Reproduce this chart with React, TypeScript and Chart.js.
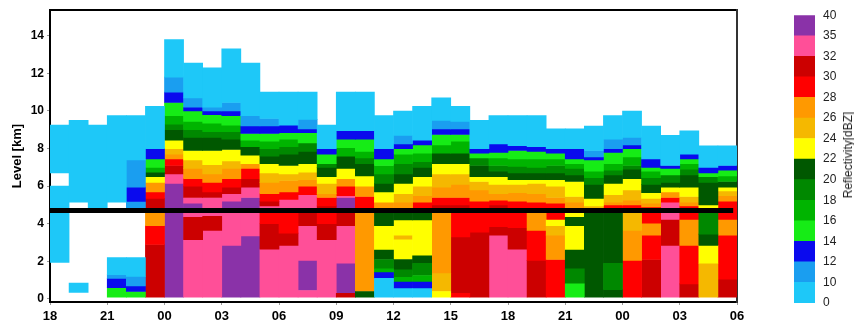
import { useEffect, useRef } from 'react';
import { Chart, registerables } from 'chart.js';

Chart.register(...registerables);

// Hour ticks along the time axis (every 3 h, starting at 18 UTC)
const timeLabels = ['18', '21', '00', '03', '06', '09', '12', '15', '18', '21', '00', '03', '06'];
const hoursPerTick = 3;
const totalHours = 36;

// Height ticks (km)
const levelTicks = [0, 2, 4, 6, 8, 10, 12, 14];

// Reflectivity classes: lower edge of each class (dBZ) and its colour
const dbzClasses = [0, 10, 12, 14, 16, 18, 20, 22, 24, 26, 28, 30, 32, 35];
const classColors = [
  '#1ec8f8', '#1a9ef0', '#0a0aee', '#16ec16', '#00b400', '#008800', '#005800',
  '#ffff00', '#f5b800', '#ff9900', '#ff0000', '#cc0000', '#ff4f98', '#8a32a8',
];
// Labels on the class edges of the colour bar
const dbzEdgeLabels = ['0', '10', '12', '14', '16', '18', '20', '22', '24', '26', '28', '30', '32', '35', '40'];

const meltingLevelKm = 4.7;
const meltingLineEndHour = 35.8;
const groundKm = 0.1;

// Hourly profiles: [top of layer (km), dBZ class or null for no echo], listed from the top down.
// Each layer reaches down to the top of the next one; the last one reaches the ground.
const profiles: Array<Array<[number, number | null]>> = [
  [[9.25, 0], [6.7, null], [6.0, 0], [1.95, null]],
  [[9.5, 0], [5.15, null], [0.85, 0], [0.35, null]],
  [[9.25, 0], [4.8, null]],
  [[9.75, 0], [5.15, null], [2.2, 0], [1.3, 10], [1.1, 12], [0.6, 14]],
  [[9.75, 0], [7.4, 10], [5.95, 12], [5.15, 10], [4.85, null], [2.2, 0], [1.2, 10], [0.7, 12], [0.4, 14]],
  [[10.25, 0], [8.0, 12], [7.45, 14], [7.0, 16], [6.75, 20], [6.5, 22], [6.2, 26], [5.7, 28], [5.35, 30], [4.6, 26], [3.9, 28], [2.9, 30]],
  [[13.8, 0], [11.8, 10], [11.0, 12], [10.45, 14], [9.75, 16], [9.3, 18], [9.0, 20], [8.45, 22], [8.0, 24], [7.7, 26], [7.45, 28], [7.1, 30], [6.65, 32], [6.15, 35]],
  [[12.55, 0], [10.7, 10], [10.2, 12], [10.0, 14], [9.45, 16], [9.0, 18], [8.6, 20], [7.9, 22], [7.4, 24], [6.95, 26], [6.4, 28], [6.0, 30], [5.4, 32], [5.1, 35], [4.7, 32], [4.35, 30], [3.15, 32]],
  [[12.3, 0], [10.2, 10], [10.0, 12], [9.8, 14], [9.35, 16], [8.9, 18], [8.6, 20], [7.9, 22], [7.15, 24], [6.65, 26], [6.2, 28], [5.7, 30], [5.4, 32], [4.4, 30], [3.65, 32]],
  [[13.3, 0], [10.45, 10], [10.0, 12], [9.75, 14], [9.25, 16], [8.9, 18], [8.5, 20], [7.95, 22], [7.35, 24], [6.95, 26], [6.4, 28], [5.95, 30], [5.6, 32], [5.2, 35], [4.7, 32], [2.85, 35]],
  [[12.55, 0], [9.75, 10], [9.2, 12], [8.8, 14], [8.45, 16], [8.1, 20], [7.65, 22], [7.2, 26], [6.95, 28], [6.4, 30], [5.95, 32], [5.4, 35], [4.7, 32], [3.35, 35]],
  [[11.0, 0], [9.6, 10], [9.2, 12], [8.8, 14], [8.4, 16], [8.0, 18], [7.6, 20], [7.2, 22], [6.7, 24], [6.2, 26], [5.6, 28], [5.2, 30], [4.95, 32], [4.7, 28], [4.0, 30], [2.65, 32]],
  [[11.0, 0], [9.25, 12], [8.85, 14], [8.5, 16], [8.1, 18], [7.7, 20], [7.1, 22], [6.65, 24], [6.3, 26], [5.7, 28], [5.3, 32], [4.7, 28], [3.5, 30], [2.85, 32]],
  [[11.0, 0], [9.55, 10], [9.05, 12], [8.85, 14], [8.3, 18], [7.85, 20], [7.2, 22], [6.75, 24], [6.35, 26], [6.0, 28], [5.55, 32], [4.7, 30], [3.9, 32], [2.05, 35], [0.45, 32]],
  [[9.25, 0], [8.0, 12], [7.7, 14], [7.2, 18], [7.0, 20], [6.5, 22], [6.15, 24], [5.6, 26], [5.4, 28], [4.95, 30], [4.7, 28], [4.0, 30], [3.15, 32]],
  [[11.0, 0], [8.95, 12], [8.5, 14], [8.05, 16], [7.6, 20], [6.95, 22], [6.4, 26], [6.0, 28], [5.5, 32], [5.4, 35], [4.7, 30], [3.9, 32], [1.9, 35], [0.3, 30]],
  [[11.0, 0], [8.95, 12], [8.5, 14], [7.85, 16], [7.5, 18], [7.2, 20], [6.55, 22], [6.0, 26], [5.45, 28], [4.7, 26], [0.4, 20]],
  [[9.75, 0], [8.0, 12], [7.45, 14], [7.1, 16], [6.65, 18], [6.15, 20], [5.7, 22], [5.15, 26], [4.7, 20], [3.9, 22], [2.6, 20], [2.1, 18], [1.6, 16], [1.4, 12], [1.1, 0]],
  [[10.0, 0], [8.7, 10], [8.25, 12], [8.0, 14], [7.7, 16], [7.2, 18], [6.65, 20], [6.15, 22], [5.6, 24], [5.15, 26], [4.7, 20], [4.2, 22], [3.4, 24], [3.15, 22], [2.1, 20], [1.55, 18], [1.15, 16], [0.9, 12], [0.55, 0]],
  [[10.25, 0], [8.45, 12], [8.2, 14], [7.75, 16], [7.3, 18], [7.0, 20], [6.5, 22], [6.0, 24], [5.5, 26], [5.15, 28], [4.7, 20], [4.2, 22], [2.3, 20], [1.9, 18], [1.25, 16], [0.9, 12], [0.55, 0]],
  [[10.7, 0], [9.5, 10], [9.05, 12], [8.75, 14], [8.2, 16], [7.75, 20], [7.2, 22], [6.65, 24], [5.95, 26], [5.4, 28], [5.0, 30], [4.7, 26], [1.35, 24], [0.4, 22]],
  [[10.25, 0], [9.45, 10], [9.05, 12], [8.75, 14], [8.4, 16], [7.75, 20], [7.2, 22], [6.65, 24], [6.1, 26], [5.4, 28], [5.0, 30], [4.7, 28], [3.3, 30], [0.3, 28]],
  [[9.5, 0], [8.0, 12], [7.75, 14], [7.5, 18], [7.1, 20], [6.5, 22], [6.25, 24], [5.8, 26], [5.2, 28], [3.55, 30]],
  [[9.75, 0], [8.25, 12], [7.8, 14], [7.5, 16], [7.1, 18], [6.8, 20], [6.5, 22], [6.1, 24], [5.6, 26], [5.25, 28], [5.0, 30], [4.7, 28], [3.85, 30], [3.4, 32]],
  [[9.75, 0], [8.15, 12], [7.9, 14], [7.45, 16], [7.05, 18], [6.7, 20], [6.35, 22], [6.1, 24], [5.65, 26], [5.2, 28], [3.8, 30], [2.65, 32]],
  [[9.75, 0], [8.1, 12], [7.85, 14], [7.45, 16], [7.0, 18], [6.7, 20], [6.35, 22], [6.15, 24], [5.6, 26], [5.15, 28], [4.7, 26], [3.65, 28], [2.05, 30]],
  [[9.05, 0], [8.0, 12], [7.75, 14], [7.45, 16], [7.1, 18], [6.7, 20], [6.35, 22], [6.0, 24], [5.4, 26], [5.1, 28], [4.2, 22], [3.9, 24], [3.4, 26], [2.1, 28]],
  [[9.05, 0], [8.0, 12], [7.45, 14], [7.2, 16], [6.95, 18], [6.6, 20], [6.25, 22], [5.45, 24], [5.15, 26], [4.7, 22], [4.35, 20], [3.9, 22], [2.6, 20], [1.6, 18], [0.8, 14]],
  [[9.2, 0], [7.9, 10], [7.55, 12], [7.4, 14], [6.8, 16], [6.45, 18], [6.1, 20], [5.35, 22], [4.95, 24], [4.7, 20]],
  [[9.75, 0], [8.5, 10], [8.0, 12], [7.8, 14], [7.2, 16], [6.85, 18], [6.6, 20], [6.15, 22], [5.55, 24], [5.15, 26], [5.0, 28], [4.7, 20], [1.9, 18], [0.5, 20]],
  [[10.0, 0], [8.6, 10], [8.2, 12], [8.0, 14], [7.55, 16], [7.1, 18], [6.9, 20], [6.4, 22], [5.8, 24], [5.25, 26], [5.0, 28], [4.7, 24], [3.65, 26], [2.05, 28]],
  [[9.2, 0], [7.45, 12], [7.0, 14], [6.8, 16], [6.45, 18], [6.1, 20], [5.65, 22], [5.35, 24], [5.1, 26], [4.9, 28], [4.0, 26], [3.4, 28], [2.1, 30]],
  [[8.7, 0], [7.1, 12], [6.95, 14], [6.6, 18], [6.2, 20], [5.95, 22], [5.7, 26], [5.4, 28], [5.15, 32], [4.2, 30], [2.85, 32]],
  [[8.95, 0], [7.7, 12], [7.45, 14], [7.2, 16], [6.9, 18], [6.6, 20], [5.95, 22], [5.45, 24], [5.15, 26], [4.95, 28], [4.2, 26], [2.85, 28], [0.8, 30]],
  [[8.15, 0], [7.0, 12], [6.7, 14], [6.5, 18], [6.2, 20], [5.0, 22], [4.7, 18], [3.45, 20], [2.85, 22], [1.9, 24]],
  [[8.15, 0], [7.1, 12], [6.85, 14], [6.55, 16], [6.25, 20], [5.95, 22], [5.75, 24], [5.5, 26], [5.2, 28], [4.2, 26], [3.4, 28], [1.05, 30]],
];

type Cell = { x: number; y: [number, number] };

// Split the profiles into one floating-bar dataset per reflectivity class
function cellsByClass(): Cell[][] {
  const groups: Cell[][] = dbzClasses.map(() => []);
  profiles.forEach((column, hour) => {
    column.forEach(([top, dbz], j) => {
      if (dbz === null) return;
      const bottom = j + 1 < column.length ? column[j + 1][0] : groundKm;
      groups[dbzClasses.indexOf(dbz)].push({ x: hour + 0.5, y: [bottom, top] });
    });
  });
  return groups;
}

const FONT = '"Liberation Sans", Arial, sans-serif';

export default function App() {
  const mainRef = useRef<HTMLCanvasElement>(null);
  const barRef = useRef<HTMLCanvasElement>(null);

  useEffect(() => {
    const groups = cellsByClass();
    const bareAxis = {
      ticks: { display: false },
      grid: { display: false, drawTicks: false },
      afterFit: (axis: any) => {
        if (axis.isHorizontal()) axis.height = 0;
        else axis.width = 0;
      },
    };

    const main = new Chart(mainRef.current as HTMLCanvasElement, {
      type: 'bar',
      data: {
        datasets: [
          ...groups.map((cells, k) => ({
            type: 'bar' as const,
            label: `${dbzEdgeLabels[k]}–${dbzEdgeLabels[k + 1]} dBZ`,
            data: cells as any,
            backgroundColor: classColors[k],
            borderWidth: 0,
            grouped: false,
            barPercentage: 1,
            categoryPercentage: 1,
          })),
          {
            type: 'line' as const,
            label: 'Melting level',
            data: [
              { x: 0, y: meltingLevelKm },
              { x: meltingLineEndHour, y: meltingLevelKm },
            ] as any,
            borderColor: '#000',
            borderWidth: 5,
            pointRadius: 0,
            order: -1,
          },
        ],
      },
      options: {
        animation: false,
        responsive: false,
        maintainAspectRatio: false,
        layout: { padding: { top: 9, right: 43, left: 0, bottom: 0 } },
        plugins: { legend: { display: false }, tooltip: { enabled: false } },
        scales: {
          x: {
            type: 'linear',
            position: 'bottom',
            min: 0,
            max: totalHours,
            offset: false,
            afterBuildTicks: (axis: any) => {
              axis.ticks = timeLabels.map((_, i) => ({ value: i * hoursPerTick }));
            },
            afterFit: (axis: any) => {
              axis.height = 24;
            },
            ticks: {
              autoSkip: false,
              maxRotation: 0,
              padding: 4,
              color: '#000',
              font: { family: FONT, weight: 'bold', size: 13 },
              callback: (_v: any, i: number) => timeLabels[i],
            },
            grid: { drawOnChartArea: false, offset: false, tickLength: 3, tickColor: '#999' },
            border: { color: '#000', width: 2 },
          },
          y: {
            type: 'linear',
            position: 'left',
            min: -0.16,
            max: 15.36,
            afterBuildTicks: (axis: any) => {
              axis.ticks = levelTicks.map((value) => ({ value }));
            },
            afterFit: (axis: any) => {
              axis.width = 50;
            },
            ticks: {
              padding: 3,
              color: '#000',
              font: { family: FONT, weight: 'bold', size: 12 },
            },
            grid: { drawOnChartArea: false, tickLength: 3, tickColor: '#999' },
            border: { color: '#000', width: 2 },
            title: {
              display: true,
              text: 'Level [km]',
              color: '#000',
              font: { family: FONT, weight: 'bold', size: 13 },
              padding: { top: 10, bottom: 0 },
            },
          },
          xTop: { type: 'linear', position: 'top', min: 0, max: totalHours, border: { color: '#000', width: 2 }, ...bareAxis },
          yRight: { type: 'linear', position: 'right', min: -0.16, max: 15.36, border: { color: '#333', width: 2 }, ...bareAxis },
        } as any,
      },
    });

    const colorBar = new Chart(barRef.current as HTMLCanvasElement, {
      type: 'bar',
      data: {
        labels: ['dBZ'],
        datasets: classColors.map((color, k) => ({
          label: `${dbzEdgeLabels[k]}–${dbzEdgeLabels[k + 1]}`,
          data: [[k, k + 1]] as any,
          backgroundColor: color,
          borderWidth: 0,
          grouped: false,
          barPercentage: 1,
          categoryPercentage: 1,
        })),
      },
      options: {
        animation: false,
        responsive: false,
        maintainAspectRatio: false,
        layout: { padding: { top: 8, bottom: 23, left: 14, right: 0 } },
        plugins: { legend: { display: false }, tooltip: { enabled: false } },
        scales: {
          x: { display: false },
          y: {
            type: 'linear',
            position: 'right',
            min: 0,
            max: dbzClasses.length,
            afterBuildTicks: (axis: any) => {
              axis.ticks = dbzEdgeLabels.map((_, k) => ({ value: k }));
            },
            afterFit: (axis: any) => {
              axis.width = 39;
            },
            ticks: {
              padding: 8,
              color: '#222',
              font: { family: FONT, size: 12 },
              callback: (_v: any, k: number) => dbzEdgeLabels[k],
            },
            grid: { display: false, drawTicks: false },
            border: { display: false },
          },
        } as any,
      },
    });

    return () => {
      main.destroy();
      colorBar.destroy();
    };
  }, []);

  return (
    <div
      style={{
        position: 'fixed',
        left: 0,
        top: 0,
        width: 854,
        height: 326,
        background: '#fff',
        overflow: 'hidden',
      }}
    >
      <canvas
        ref={mainRef}
        width={780}
        height={326}
        style={{ position: 'absolute', left: 0, top: 0, width: 780, height: 326 }}
      />
      <canvas
        ref={barRef}
        width={74}
        height={326}
        style={{ position: 'absolute', left: 780, top: 0, width: 74, height: 326 }}
      />
      <div
        style={{
          position: 'absolute',
          left: 848,
          top: 155,
          transform: 'translate(-50%, -50%) rotate(-90deg)',
          whiteSpace: 'nowrap',
          font: `12px ${FONT}`,
          color: '#222',
        }}
      >
        Reflectivity[dBZ]
      </div>
    </div>
  );
}
